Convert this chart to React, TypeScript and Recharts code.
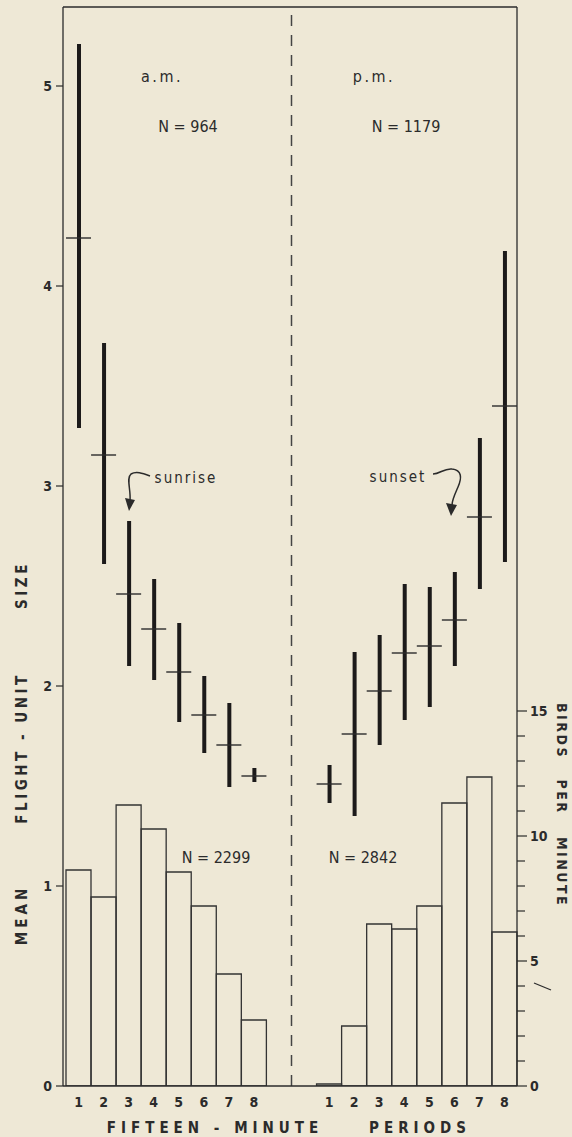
import React from "react"
import { ComposedChart, Bar, Line, XAxis, YAxis, ReferenceLine, Customized } from "recharts"

// fifteen-minute periods before/after sunrise and sunset
const periods = ["1", "2", "3", "4", "5", "6", "7", "8"]

// mean flight-unit size (a.m.), with range bars
const amHigh = [5.21, 3.715, 2.825, 2.535, 2.315, 2.05, 1.915, 1.59]
const amMean = [4.24, 3.155, 2.46, 2.285, 2.07, 1.855, 1.705, 1.55]
const amLow = [3.29, 2.61, 2.1, 2.03, 1.82, 1.665, 1.495, 1.52]

// mean flight-unit size (p.m.)
const pmHigh = [1.605, 2.17, 2.255, 2.51, 2.495, 2.57, 3.24, 4.175]
const pmMean = [1.51, 1.76, 1.975, 2.165, 2.2, 2.33, 2.845, 3.4]
const pmLow = [1.415, 1.35, 1.705, 1.83, 1.895, 2.1, 2.485, 2.62]

// birds per minute (histogram)
const amBirds = [8.64, 7.56, 11.24, 10.28, 8.56, 7.2, 4.48, 2.64]
const pmBirds = [0.08, 2.4, 6.48, 6.28, 7.2, 11.32, 12.36, 6.16]

const sizeTicks = [0, 1, 2, 3, 4, 5]
const birdTicks = [0, 1, 2, 3, 4, 5, 6, 7, 8, 9, 10, 11, 12, 13, 14, 15]
const sizeMax = 5.395
const birdMax = sizeMax * 8

const rows = [
  ...periods.map((p, i) => ({ slot: `am${p}`, label: p, range: [amLow[i], amHigh[i]], mean: amMean[i], birds: amBirds[i] })),
  { slot: "gap1", label: "", range: null, mean: null, birds: null },
  { slot: "gap2", label: "", range: null, mean: null, birds: null },
  ...periods.map((p, i) => ({ slot: `pm${p}`, label: p, range: [pmLow[i], pmHigh[i]], mean: pmMean[i], birds: pmBirds[i] })),
]
const labelOf: Record<string, string> = {}
rows.forEach((r) => (labelOf[r.slot] = r.label))

const FONT = "'DejaVu Sans Condensed', 'Liberation Sans Narrow', 'DejaVu Sans', sans-serif"
const INK = "#2b2b2b"
const PAPER = "#eee8d6"

const XTick = (props: any) => {
  const { x, y, payload } = props
  return (
    <text x={x} y={y + 21} textAnchor="middle" fontSize={14} fontWeight="bold" fill={INK} fontFamily={FONT}>
      {labelOf[payload.value]}
    </text>
  )
}

const LeftTick = (props: any) => {
  const { x, y, payload } = props
  return (
    <g>
      <line x1={x - 7} x2={x} y1={y} y2={y} stroke={INK} strokeWidth={1.2} />
      <text x={x - 11} y={y + 5} textAnchor="end" fontSize={14} fontWeight="bold" fill={INK} fontFamily={FONT}>
        {payload.value}
      </text>
    </g>
  )
}

const RightTick = (props: any) => {
  const { x, y, payload } = props
  const major = payload.value % 5 === 0
  return (
    <g>
      <line x1={x} x2={x + (major ? 10 : 8)} y1={y} y2={y} stroke={INK} strokeWidth={1.2} />
      {major && (
        <text x={x + 13} y={y + 5} textAnchor="start" fontSize={14} fontWeight="bold" fill={INK} fontFamily={FONT}>
          {payload.value}
        </text>
      )}
    </g>
  )
}

const MeanMark = (props: any) => {
  const { cx, cy, value, index } = props
  if (value == null || cx == null || cy == null) return <g key={`m${index}`} />
  return <line key={`m${index}`} x1={cx - 12.5} x2={cx + 12.5} y1={cy} y2={cy} stroke={INK} strokeWidth={1.4} />
}

const txt = { fill: INK, fontFamily: FONT }

const Notes = () => (
  <g>
    <text x={162} y={82} textAnchor="middle" fontSize={16} letterSpacing={2.5} {...txt}>a.m.</text>
    <text x={188} y={132} textAnchor="middle" fontSize={16} {...txt}>N = 964</text>
    <text x={374} y={82} textAnchor="middle" fontSize={16} letterSpacing={2.5} {...txt}>p.m.</text>
    <text x={406} y={132} textAnchor="middle" fontSize={16} {...txt}>N = 1179</text>
    <text x={186} y={483} textAnchor="middle" fontSize={15} letterSpacing={2} {...txt}>sunrise</text>
    <text x={398} y={482} textAnchor="middle" fontSize={15} letterSpacing={2} {...txt}>sunset</text>
    <text x={216} y={863} textAnchor="middle" fontSize={16} {...txt}>N = 2299</text>
    <text x={363} y={863} textAnchor="middle" fontSize={16} {...txt}>N = 2842</text>

    <path d="M 150 476 C 142 473, 136 471, 131 474 C 126 478, 131 490, 130 500" fill="none" stroke={INK} strokeWidth={1.5} />
    <path d="M 125 498 L 135 500 L 129 511 Z" fill={INK} />
    <path d="M 433 474 C 440 474, 444 468, 452 469 C 462 470, 462 478, 458 487 C 455 494, 452 500, 452 505" fill="none" stroke={INK} strokeWidth={1.5} />
    <path d="M 446 503 L 457 505 L 451 516 Z" fill={INK} />
    <path d="M 534 983 L 551 990" stroke={INK} strokeWidth={1.2} />

    <text x={215} y={1133} textAnchor="middle" fontSize={15} fontWeight="bold" letterSpacing={5} {...txt}>FIFTEEN - MINUTE</text>
    <text x={420} y={1133} textAnchor="middle" fontSize={15} fontWeight="bold" letterSpacing={5} {...txt}>PERIODS</text>

    <text transform="translate(27 585) rotate(-90)" textAnchor="middle" fontSize={15} fontWeight="bold" letterSpacing={3.5} {...txt}>SIZE</text>
    <text transform="translate(27 748) rotate(-90)" textAnchor="middle" fontSize={15} fontWeight="bold" letterSpacing={3.5} {...txt}>FLIGHT - UNIT</text>
    <text transform="translate(27 915) rotate(-90)" textAnchor="middle" fontSize={15} fontWeight="bold" letterSpacing={4} {...txt}>MEAN</text>

    <text transform="translate(557 731) rotate(90)" textAnchor="middle" fontSize={14} fontWeight="bold" letterSpacing={2.5} {...txt}>BIRDS</text>
    <text transform="translate(557 797) rotate(90)" textAnchor="middle" fontSize={14} fontWeight="bold" letterSpacing={2.5} {...txt}>PER</text>
    <text transform="translate(557 872) rotate(90)" textAnchor="middle" fontSize={14} fontWeight="bold" letterSpacing={2.5} {...txt}>MINUTE</text>
  </g>
)

export default function App() {
  return (
    <div style={{ position: "absolute", left: 0, top: 0, width: 572, height: 1137, background: PAPER }}>
      <ComposedChart
        width={572}
        height={1137}
        data={rows}
        margin={{ top: 7, right: 0, bottom: 0, left: 0 }}
        barCategoryGap={0}
        barGap={0}
      >
        <XAxis
          xAxisId="hist"
          dataKey="slot"
          height={51}
          padding={{ left: 3, right: 0 }}
          tickLine={false}
          tickSize={0}
          tickMargin={0}
          tick={XTick}
          interval={0}
          axisLine={{ stroke: INK, strokeWidth: 1.3 }}
        />
        <XAxis xAxisId="err" dataKey="slot" hide height={0} padding={{ left: 3, right: 0 }} />
        <YAxis
          yAxisId="left"
          width={63}
          domain={[0, sizeMax]}
          ticks={sizeTicks}
          allowDataOverflow
          tickLine={false}
          tickSize={0}
          tickMargin={0}
          tick={LeftTick}
          interval={0}
          axisLine={{ stroke: INK, strokeWidth: 1.3 }}
        />
        <YAxis
          yAxisId="right"
          orientation="right"
          width={55}
          domain={[0, birdMax]}
          ticks={birdTicks}
          allowDataOverflow
          tickLine={false}
          tickSize={0}
          tickMargin={0}
          tick={RightTick}
          interval={0}
          axisLine={{ stroke: INK, strokeWidth: 1.3 }}
        />
        <ReferenceLine xAxisId="hist" yAxisId="left" x="gap1" position="end" stroke="#444" strokeWidth={1.5} strokeDasharray="11 9" />
        <ReferenceLine xAxisId="hist" yAxisId="left" y={sizeMax} stroke={INK} strokeWidth={1.3} />
        <Bar
          xAxisId="hist"
          yAxisId="right"
          dataKey="birds"
          fill="none"
          stroke="#333"
          strokeWidth={1.3}
          isAnimationActive={false}
        />
        <Bar
          xAxisId="err"
          yAxisId="left"
          dataKey="range"
          barSize={4}
          fill="#1c1a1a"
          isAnimationActive={false}
        />
        <Line
          xAxisId="err"
          yAxisId="left"
          dataKey="mean"
          stroke="none"
          dot={MeanMark}
          activeDot={false}
          isAnimationActive={false}
        />
        <Customized component={Notes} />
      </ComposedChart>
    </div>
  )
}
